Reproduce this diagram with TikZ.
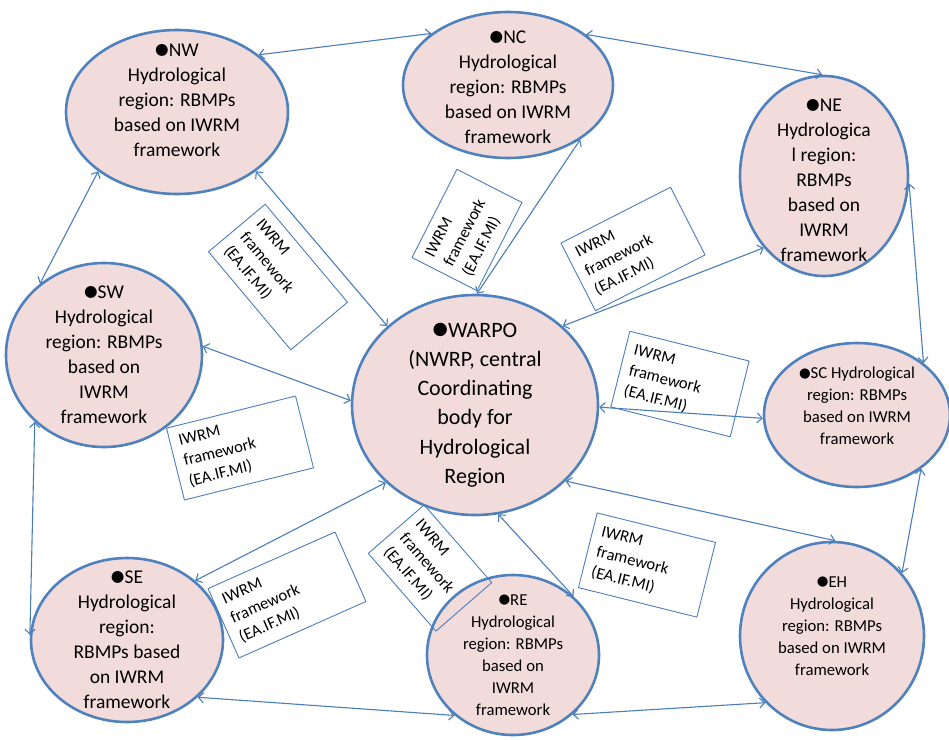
\documentclass[tikz,border=0pt]{standalone}
\usepackage{fontspec}
\setmainfont{Carlito}
\newfontfamily\symfont{DejaVu Sans}[Scale=0.8]
\usetikzlibrary{shapes.geometric,arrows.meta}

\definecolor{regionfill}{HTML}{F2DCDB}
\definecolor{regionline}{HTML}{4F81BD}
\definecolor{linkblue}{HTML}{4A7EBB}
\newcommand{\blt}{\raisebox{0.1em}{\symfont ●}}

\tikzset{
  region/.style={ellipse, draw=regionline, line width=2.6pt, fill=regionfill, inner sep=0pt},
  bigtext/.style={align=center, inner sep=0pt, font=\fontsize{19.5}{25}\selectfont},
  hubtext/.style={align=center, inner sep=0pt, font=\fontsize{22}{29.3}\selectfont},
  smalltext/.style={align=center, inner sep=0pt, font=\fontsize{16.7}{22}\selectfont},
  fwbox/.style={draw=linkblue, line width=0.9pt, align=left, inner xsep=9pt, inner ysep=3pt,
    font=\fontsize{16.6}{21}\selectfont},
  link/.style={draw=linkblue, line width=1.1pt,
    {Straight Barb[length=5pt,width=10pt]}-{Straight Barb[length=5pt,width=10pt]}}
}

\begin{document}
\begin{tikzpicture}[x=1pt,y=-1pt,line cap=round,line join=round]
  \useasboundingbox (0,0) rectangle (949,739);

  % regions
  \node[region, minimum width=222pt, minimum height=164pt,
    label={[bigtext,yshift=12pt]center:{\blt NW\\Hydrological\\region: RBMPs\\based on IWRM\\framework}}] (nw) at (177,112) {};
  \node[region, minimum width=210pt, minimum height=146pt,
    label={[bigtext,yshift=-2pt]center:{\blt NC\\Hydrological\\region: RBMPs\\based on IWRM\\framework}}] (nc) at (508,85) {};
  \node[region, minimum width=168pt, minimum height=200pt,
    label={[bigtext,yshift=-4pt]center:{\blt NE\\Hydrologica\\l region:\\RBMPs\\based on\\IWRM\\framework}}] (ne) at (824,176) {};
  \node[region, minimum width=196pt, minimum height=184pt,
    label={[bigtext]center:{\blt SW\\Hydrological\\region: RBMPs\\based on\\IWRM\\framework}}] (sw) at (104,355) {};
  \node[region, minimum width=246pt, minimum height=220pt,
    label={[hubtext]center:{\blt WARPO\\(NWRP, central\\Coordinating\\body for\\Hydrological\\Region}}] (warpo) at (475,405) {};
  \node[region, minimum width=186pt, minimum height=144pt,
    label={[smalltext,yshift=9pt]center:{\blt SC Hydrological\\region: RBMPs\\based on IWRM\\framework}}] (sc) at (857,415) {};
  \node[region, minimum width=192pt, minimum height=164pt,
    label={[bigtext]center:{\blt SE\\Hydrological\\region:\\RBMPs based\\on IWRM\\framework}}] (se) at (127,640) {};
  \node[region, minimum width=172pt, minimum height=160pt,
    label={[smalltext]center:{\blt RE\\Hydrological\\region: RBMPs\\based on\\IWRM\\framework}}] (re) at (513,655) {};
  \node[region, minimum width=184pt, minimum height=188pt,
    label={[smalltext,yshift=10pt]center:{\blt EH\\Hydrological\\region: RBMPs\\based on IWRM\\framework}}] (eh) at (832,636) {};

  % links
  \foreach \a/\b in {nw.35/nc.146, nc.33/ne.91, nw.-143/sw.132, sw.-136/se.177,
      se.-39/re.-134, re.-45/eh.-135, eh.42/sc.-40, ne.-5/sc.38,
      warpo.138/nw.-37, warpo.89/nc.-37, warpo.42/ne.-130, warpo.178/sw.5,
      warpo.-1/sc.-178, warpo.-139/se.41, warpo.-78/re.44, warpo.-40/eh.88}
    \draw[link] (\a) -- (\b);

  % framework boxes
  \foreach \nm/\px/\py/\rot/\bw/\bh/\tww in {
      fwnw/278/277/-50/128/74/110, fwnc/467/230/63/99/73/81,
      fwne/633/249/27/123/76/105, fwsc/680/384/-14/123/78/105,
      fwsw/240/448/14/133/74/115, fwse/287/595/24/139/76/121,
      fwre/430/568/-49/103/74/85, fweh/647/565/-14/122/77/104}
    \node[fwbox, rotate=\rot, minimum width=\bw pt, minimum height=\bh pt, text width=\tww pt]
      (\nm) at (\px,\py) {IWRM\\framework\\(EA.IF.MI)};
\end{tikzpicture}
\end{document}
